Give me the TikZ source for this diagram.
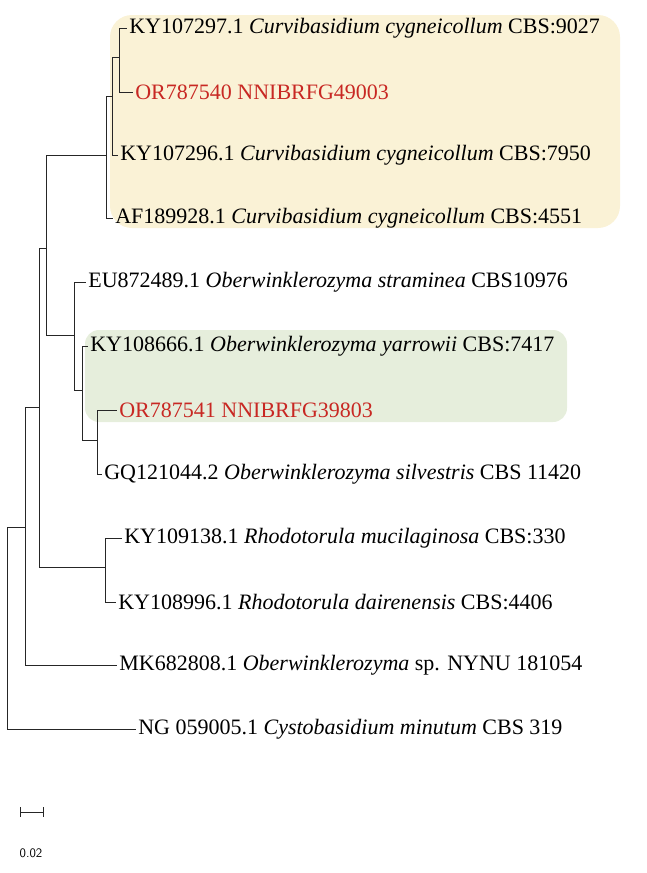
\documentclass[tikz,border=0pt]{standalone}
\usepackage{fontspec}
\setmainfont{Liberation Serif}
\begin{document}
\begin{tikzpicture}[x=1pt,y=-1pt,line width=0.7pt,
  tip/.style={anchor=west,inner ysep=0pt,inner xsep=2pt,font=\fontsize{22}{24}\selectfont},
  red/.style={text=myred},
  br/.style={draw=black!85}]
\definecolor{myred}{RGB}{200,40,35}
\definecolor{yel}{RGB}{250,242,214}
\definecolor{grn}{RGB}{230,238,220}
\useasboundingbox (0,0) rectangle (647,873);
\fill[yel,rounded corners=22] (110,15) rectangle (620,228);
\fill[grn,rounded corners=14] (85,330) rectangle (567,422);
% tips
\node[tip] (t1) at (127,28) {KY107297.1 \textit{Curvibasidium cygneicollum} CBS:9027};
\node[tip,red] (t2) at (133,92) {OR787540 NNIBRFG49003};
\node[tip] (t3) at (118,155) {KY107296.1 \textit{Curvibasidium cygneicollum} CBS:7950};
\node[tip] (t4) at (113,218) {AF189928.1 \textit{Curvibasidium cygneicollum} CBS:4551};
\node[tip] (t5) at (86,282) {EU872489.1 \textit{Oberwinklerozyma straminea} CBS10976};
\node[tip] (t6) at (88,346) {KY108666.1 \textit{Oberwinklerozyma yarrowii} CBS:7417};
\node[tip,red] (t7) at (117,410) {OR787541 NNIBRFG39803};
\node[tip] (t8) at (102,474) {GQ121044.2 \textit{Oberwinklerozyma silvestris} CBS 11420};
\node[tip] (t9) at (122,538) {KY109138.1 \textit{Rhodotorula mucilaginosa} CBS:330};
\node[tip] (t10) at (116,602) {KY108996.1 \textit{Rhodotorula dairenensis} CBS:4406};
\node[tip] (t11) at (117,665) {MK682808.1 \textit{Oberwinklerozyma} sp. NYNU 181054};
\node[tip] (t12) at (136,729) {NG 059005.1 \textit{Cystobasidium minutum} CBS 319};
% internal nodes
\coordinate (R) at (7,0);
\coordinate (A) at (25,0);
\coordinate (D) at (106,0);
\coordinate (F) at (112,0);
\coordinate (G) at (119,0);
\coordinate (E) at (74,0);
\coordinate (H) at (82,0);
\coordinate (I) at (97,0);
\coordinate (Rh) at (105,0);
\draw[br] (R|-t12.west) -- (t12.west) ;
\draw[br] (R|-t12.west) -- (7,527) -- (25,527);
\draw[br] (A|-t11.west) -- (t11.west);
\draw[br] (25,527) -- (25,407) -- (39,407);
\draw[br] (25,527) -- (A|-t11.west);
\draw[br] (39,407) -- (39,248) -- (46,248);
\draw[br] (39,407) -- (39,567) -- (105,567);
\draw[br] (Rh|-t9.west) -- (t9.west);
\draw[br] (Rh|-t10.west) -- (t10.west);
\draw[br] (Rh|-t9.west) -- (Rh|-t10.west);
\draw[br] (46,155) -- (46,335);
\draw[br] (46,155) -- (106,155);
\draw[br] (D|-t4.west) -- (106,96) -- (112,96);
\draw[br] (D|-t4.west) -- (t4.west);
\draw[br] (F|-t3.west) -- (112,57) -- (119,57);
\draw[br] (F|-t3.west) -- (t3.west);
\draw[br] (G|-t1.west) -- (G|-t2.west) -- (t2.west);
\draw[br] (G|-t1.west) -- (t1.west);
\draw[br] (46,335) -- (74,335);
\draw[br] (E|-t5.west) -- (74,390) -- (82,390);
\draw[br] (E|-t5.west) -- (t5.west);
\draw[br] (H|-t6.west) -- (82,440) -- (97,440);
\draw[br] (H|-t6.west) -- (t6.west);
\draw[br] (I|-t7.west) -- (I|-t8.west);
\draw[br] (I|-t7.west) -- (t7.west);
\draw[br] (I|-t8.west) -- (t8.west);
% scale bar
\coordinate (s1) at (20,812);
\coordinate (s2) at (43,812);
\draw[br] (s1) -- (s2) (20,807) -- (20,817) (43,807) -- (43,817);
\node[font=\sffamily\fontsize{13}{14}\selectfont] (sl) at (31,853) {0.02};
\end{tikzpicture}
\end{document}
